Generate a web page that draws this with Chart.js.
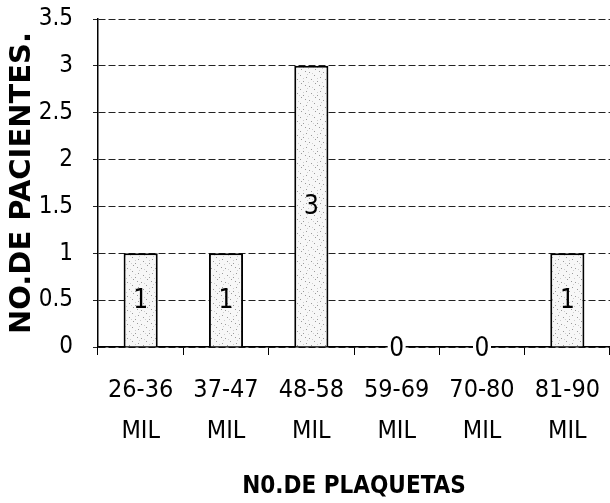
<!DOCTYPE html>
<html><head><meta charset="utf-8">
<script src="https://cdn.jsdelivr.net/npm/chart.js@4"></script>
<style>html,body{margin:0;padding:0;background:#fff}#wrap{width:610px;height:503px}</style>
</head><body><div id="wrap"><canvas id="c" width="610" height="503"></canvas></div>
<script>
const categories = [["26-36","MIL"],["37-47","MIL"],["48-58","MIL"],["59-69","MIL"],["70-80","MIL"],["81-90","MIL"]];
const patients = [1, 1, 3, 0, 0, 1];
const yTicks = [0, 0.5, 1, 1.5, 2, 2.5, 3, 3.5];
const xTitle = "N0.DE PLAQUETAS";
const yTitle = "NO.DE PACIENTES.";

const COND = "'DejaVu Sans Condensed','Liberation Sans Narrow',sans-serif";

function speckle() {
  const p = document.createElement('canvas');
  p.width = 14; p.height = 14;
  const g = p.getContext('2d');
  g.fillStyle = '#f7f7f7'; g.fillRect(0, 0, 14, 14);
  g.fillStyle = '#9a9a9a';
  [[1,2],[6,5],[11,1],[3,9],[9,11],[12,7],[7,13]].forEach(([x, y]) => g.fillRect(x, y, 1, 1));
  g.fillStyle = '#cfcfcf';
  [[4,3],[9,8],[0,12],[13,4],[5,11]].forEach(([x, y]) => g.fillRect(x, y, 1, 1));
  return g.createPattern(p, 'repeat');
}

const labelPlugin = {
  id: 'labels',
  afterDatasetsDraw(chart) {
    const ctx = chart.ctx;
    const meta = chart.getDatasetMeta(0);
    ctx.save();
    ctx.font = "26px " + COND;
    ctx.textAlign = 'center';
    ctx.textBaseline = 'middle';
    meta.data.forEach((el, i) => {
      const v = patients[i];
      const cy = (el.y + el.base) / 2;
      if (v === 0) {
        ctx.fillStyle = '#fff';
        ctx.fillRect(el.x - 9, el.base - 3, 18, 6);
        ctx.fillStyle = '#000';
        ctx.fillText(String(v), el.x, el.base + 2);
      } else {
        ctx.fillStyle = '#000';
        ctx.fillText(String(v), el.x, cy + 1);
      }
    });
    ctx.restore();
  }
};

const ctx = document.getElementById('c').getContext('2d');
new Chart(ctx, {
  type: 'bar',
  data: {
    labels: categories,
    datasets: [{
      data: patients,
      backgroundColor: speckle(),
      borderColor: '#000',
      borderWidth: 2,
      barPercentage: 0.4,
      categoryPercentage: 1
    }]
  },
  options: {
    responsive: false,
    animation: false,
    devicePixelRatio: 1,
    layout: { padding: { top: 19, right: 0, left: 0, bottom: 0 } },
    plugins: { legend: { display: false }, tooltip: { enabled: false } },
    scales: {
      x: {
        afterFit(s) { s.height = 156; s.paddingLeft = 0; s.paddingRight = 0; },
        grid: { display: true, drawOnChartArea: false, drawTicks: true, tickLength: 8, color: '#000', offset: true },
        border: { display: true, color: '#000', width: 1.5 },
        ticks: { color: '#000', font: { family: COND, size: 25, lineHeight: 1.64 }, padding: 15, maxRotation: 0, autoSkip: false },
        title: { display: true, text: xTitle, color: '#000', font: { family: COND, size: 24, weight: 'bold' }, padding: { top: 0, bottom: 2 } }
      },
      y: {
        min: 0, max: 3.5,
        afterFit(s) { s.width = 98; s.paddingTop = 0; s.paddingBottom = 0; },
        afterBuildTicks(s) { s.ticks = yTicks.map(v => ({ value: v })); },
        grid: { color: '#222', lineWidth: 1, drawTicks: true, tickLength: 5 },
        border: { display: true, color: '#000', width: 1.5, dash: [7, 3] },
        ticks: { color: '#000', font: { family: COND, size: 24 }, padding: 20, callback: v => String(v) },
        title: { display: true, text: yTitle, color: '#000', font: { family: "'DejaVu Sans',sans-serif", size: 29, weight: 'bold' }, padding: { top: 5, bottom: 0 } }
      }
    }
  },
  plugins: [labelPlugin]
});
</script></body></html>
